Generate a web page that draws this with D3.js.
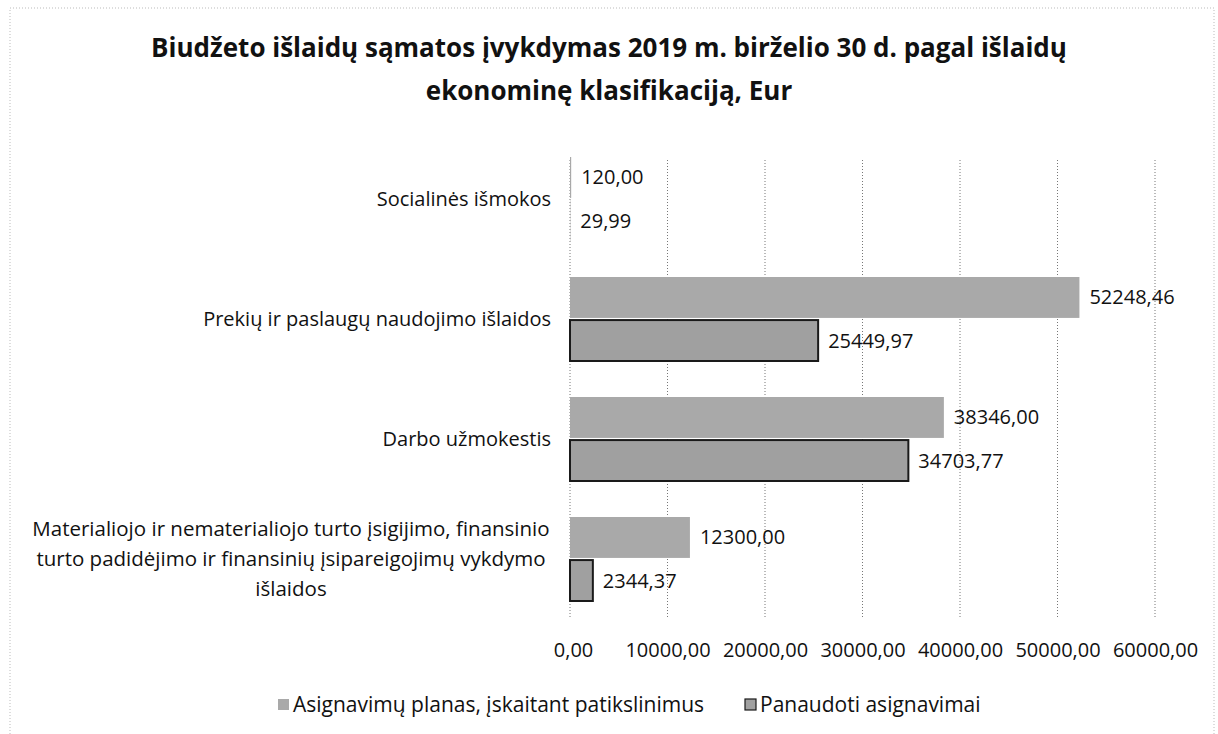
<!DOCTYPE html>
<html>
<head>
<meta charset="utf-8">
<script src="https://cdn.jsdelivr.net/npm/d3@7"></script>
<style>
  body { margin: 0; background: #fff; }
  text { font-family: "Open Sans", "DejaVu Sans", sans-serif; fill: #111; }
</style>
</head>
<body>
<div id="chart"></div>
<script>
const categories = [
  "Socialinės išmokos",
  "Prekių ir paslaugų naudojimo išlaidos",
  "Darbo užmokestis",
  "Materialiojo ir nematerialiojo turto įsigijimo, finansinio turto padidėjimo ir finansinių įsipareigojimų vykdymo išlaidos"
];
const categoryLines = [
  ["Socialinės išmokos"],
  ["Prekių ir paslaugų naudojimo išlaidos"],
  ["Darbo užmokestis"],
  ["Materialiojo ir nematerialiojo turto įsigijimo, finansinio",
   "turto padidėjimo ir finansinių įsipareigojimų vykdymo",
   "išlaidos"]
];
const planValues = [120.00, 52248.46, 38346.00, 12300.00];
const usedValues = [29.99, 25449.97, 34703.77, 2344.37];
const seriesNames = ["Asignavimų planas, įskaitant patikslinimus", "Panaudoti asignavimai"];
const xTicks = [0, 10000, 20000, 30000, 40000, 50000, 60000];
const titleLines = [
  "Biudžeto išlaidų sąmatos įvykdymas 2019 m. birželio 30 d. pagal išlaidų",
  "ekonominę klasifikaciją, Eur"
];

const W = 1218, H = 734;
const margin = { left: 570, right: 63, top: 139, bottom: 115 };
const fs = "20px";

const svg = d3.select("#chart").append("svg")
  .attr("width", W)
  .attr("height", H);

// outer chart border (dotted, scanned look)
svg.append("rect")
  .attr("x", 10).attr("y", 8)
  .attr("width", W - 14).attr("height", H - 6)
  .attr("fill", "none")
  .attr("stroke", "#bbb")
  .attr("stroke-dasharray", "1,2");

const fmt = v => d3.format(".2f")(v).replace(".", ",");

const x = d3.scaleLinear()
  .domain([0, 60000])
  .range([margin.left, W - margin.right]);

const y = d3.scaleBand()
  .domain(categories)
  .range([margin.top, H - margin.bottom]);

// two bars per group, nearly touching
const inner = d3.scaleBand()
  .domain(["plan", "used"])
  .range([18, y.bandwidth() - 18])
  .paddingInner(0.05);

// title
svg.append("g").selectAll("text")
  .data(titleLines)
  .enter().append("text")
  .attr("x", 609)
  .attr("y", (d, i) => 57 + i * 43)
  .attr("text-anchor", "middle")
  .style("font-size", "26px")
  .style("font-weight", "bold")
  .text(d => d);

// gridlines
svg.append("g").selectAll("line")
  .data(xTicks)
  .enter().append("line")
  .attr("x1", d => x(d)).attr("x2", d => x(d))
  .attr("y1", 160).attr("y2", H - margin.bottom)
  .attr("stroke", "#777")
  .attr("stroke-width", 1)
  .attr("stroke-dasharray", "1,2");

// x axis labels
const xAxis = d3.axisBottom(x)
  .tickValues(xTicks)
  .tickSize(0)
  .tickFormat(fmt);

const gx = svg.append("g")
  .attr("transform", `translate(0,${H - margin.bottom + 21})`)
  .call(xAxis);
gx.select(".domain").remove();
gx.selectAll("text")
  .style("font-size", fs)
  .style("font-family", "'Open Sans', sans-serif")
  .attr("fill", "#111");
gx.selectAll(".tick").filter(d => d === 0).select("text").attr("dx", 3);

// category labels
const cat = svg.append("g").selectAll("g")
  .data(categories)
  .enter().append("g");

cat.each(function (d, i) {
  const lines = categoryLines[i];
  const cy = y(d) + y.bandwidth() / 2;
  const lh = 30;
  const multi = lines.length > 1;
  d3.select(this).selectAll("text")
    .data(lines)
    .enter().append("text")
    .attr("x", multi ? 291 : 551)
    .attr("y", (l, j) => cy + (j - (lines.length - 1) / 2) * lh)
    .attr("dy", "0.35em")
    .attr("text-anchor", multi ? "middle" : "end")
    .style("font-size", multi ? "20.5px" : fs)
    .text(l => l);
});

// bars
const series = [
  { key: "plan", values: planValues, fill: "#a9a9a9", stroke: "none" },
  { key: "used", values: usedValues, fill: "#a0a0a0", stroke: "#1a1a1a" }
];

series.forEach(s => {
  const g = svg.append("g");
  g.selectAll("rect")
    .data(categories)
    .enter().append("rect")
    .attr("x", x(0))
    .attr("y", d => y(d) + inner(s.key))
    .attr("width", (d, i) => x(s.values[i]) - x(0))
    .attr("height", inner.bandwidth())
    .attr("fill", s.fill)
    .attr("stroke", (d, i) => s.values[i] < 200 ? "none" : s.stroke)
    .attr("stroke-width", 2);

  g.selectAll("text")
    .data(categories)
    .enter().append("text")
    .attr("x", (d, i) => x(s.values[i]) + 10)
    .attr("y", d => y(d) + inner(s.key) + inner.bandwidth() / 2)
    .attr("dy", "0.35em")
    .style("font-size", fs)
    .text((d, i) => fmt(s.values[i]));
});

// legend
const legend = svg.append("g").attr("transform", "translate(0,705)");
const legendItems = [
  { name: seriesNames[0], x: 278, fill: "#a9a9a9", stroke: "none" },
  { name: seriesNames[1], x: 745, fill: "#a0a0a0", stroke: "#1a1a1a" }
];
legendItems.forEach(it => {
  legend.append("rect")
    .attr("x", it.x).attr("y", -6)
    .attr("width", 11).attr("height", 11)
    .attr("fill", it.fill)
    .attr("stroke", it.stroke)
    .attr("stroke-width", 1.2);
  legend.append("text")
    .attr("x", it.x + 15)
    .attr("y", 0)
    .attr("dy", "0.35em")
    .style("font-size", "21px")
    .text(it.name);
});
</script>
</body>
</html>
